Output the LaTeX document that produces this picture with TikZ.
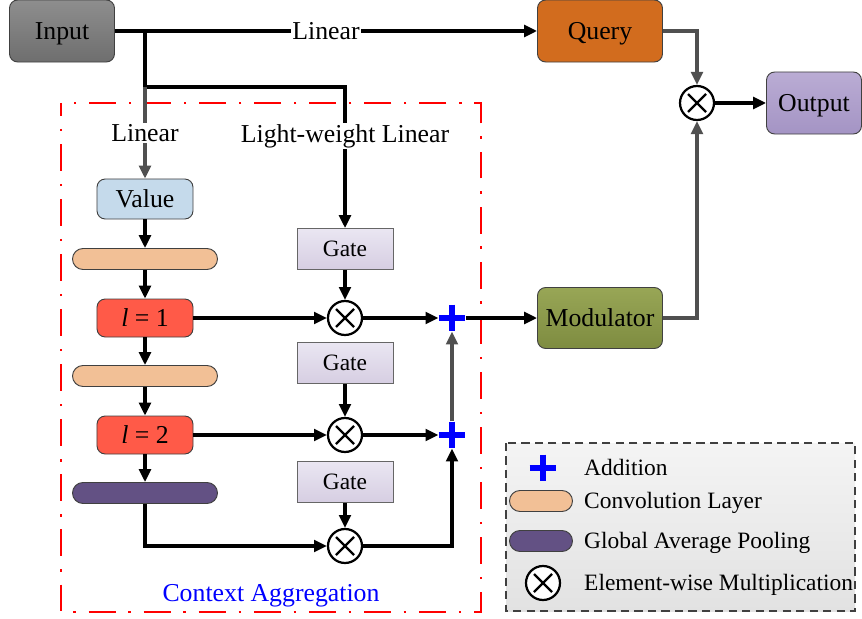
\documentclass[tikz,border=0pt]{standalone}
\usepackage{fontspec}
\setmainfont{Liberation Serif}
\usetikzlibrary{arrows.meta}

\definecolor{inputtop}{RGB}{142,142,142}
\definecolor{inputbot}{RGB}{110,110,110}
\definecolor{queryfill}{RGB}{210,108,30}
\definecolor{outtop}{RGB}{186,172,212}
\definecolor{outbot}{RGB}{164,148,196}
\definecolor{modtop}{RGB}{152,166,86}
\definecolor{modbot}{RGB}{126,140,64}
\definecolor{valuefill}{RGB}{197,218,235}
\definecolor{convfill}{RGB}{242,192,150}
\definecolor{levelfill}{RGB}{255,90,72}
\definecolor{gapfill}{RGB}{99,81,132}
\definecolor{gatetop}{RGB}{234,230,242}
\definecolor{gatebot}{RGB}{214,206,226}
\definecolor{legtop}{RGB}{244,244,244}
\definecolor{legbot}{RGB}{226,226,226}
\definecolor{linegray}{RGB}{80,80,80}

\tikzset{
	box/.style={draw=black!75, line width=0.8pt, rounded corners=7pt, inner sep=0pt,
		text height=14.5pt, text depth=0pt, font=\fontsize{22}{26}\selectfont},
	pill/.style={draw=black!75, line width=0.8pt, rounded corners=9pt, inner sep=0pt,
		minimum width=4.35cm, minimum height=0.63cm},
	gatebox/.style={draw=black!60, line width=0.8pt, inner sep=0pt, minimum width=2.88cm,
		minimum height=1.23cm, top color=gatetop, bottom color=gatebot,
		text height=13.2pt, text depth=0pt, font=\fontsize{20}{24}\selectfont},
	mulnode/.style={circle, draw, fill=white, line width=1.9pt, minimum size=1.02cm, inner sep=0pt,
		path picture={
			\draw[line width=1.9pt] ([shift={(-0.27cm,-0.27cm)}]path picture bounding box.center)
				-- ([shift={(0.27cm,0.27cm)}]path picture bounding box.center);
			\draw[line width=1.9pt] ([shift={(-0.27cm,0.27cm)}]path picture bounding box.center)
				-- ([shift={(0.27cm,-0.27cm)}]path picture bounding box.center);
		}},
	addnode/.style={rectangle, minimum size=0.8cm, inner sep=0pt,
		path picture={
			\draw[blue, line width=5pt] (path picture bounding box.west) -- (path picture bounding box.east);
			\draw[blue, line width=5pt] (path picture bounding box.north) -- (path picture bounding box.south);
		}},
	arrow/.style={line width=2.6pt, -{Triangle[length=11pt,width=10pt]}},
	grayarrow/.style={arrow, draw=linegray, -{Triangle[length=11pt,width=10pt,fill=linegray]}},
	label/.style={fill=white, inner sep=1pt, font=\fontsize{22}{26}\selectfont},
	legtext/.style={anchor=west, inner sep=0pt, text height=13.2pt, text depth=0pt,
		font=\fontsize{20}{24}\selectfont},
}

\begin{document}
\begin{tikzpicture}[x=0.03cm, y=-0.03cm]
	%%%%% START %%%%%
	\useasboundingbox (0,0) rectangle (862,619);
	
	\draw[red, line width=2.5pt, dash pattern=on 23pt off 11pt on 2pt off 11pt, dash phase=12pt] (61,103) rectangle (481,612);
	\node[text=blue, font=\fontsize{22}{26}\selectfont, text height=14.5pt, text depth=0pt] (ctxlabel) at (271,593) {Context Aggregation};
	
	\node[box, minimum width=3.15cm, minimum height=1.86cm, top color=inputtop, bottom color=inputbot] (input) at (62,31) {Input};
	\node[box, minimum width=3.75cm, minimum height=1.86cm, fill=queryfill] (query) at (600,31) {Query};
	\node[box, minimum width=2.85cm, minimum height=1.86cm, top color=outtop, bottom color=outbot] (output) at (814,103) {Output};
	\node[mulnode] (mulout) at (697,103) {};
	\node[box, minimum width=3.75cm, minimum height=1.83cm, top color=modtop, bottom color=modbot] (modulator) at (600,318) {Modulator};
	
	\node[box, minimum width=2.88cm, minimum height=1.2cm, fill=valuefill] (value) at (145,199) {Value};
	\node[pill, fill=convfill] (conv1) at (145,259) {};
	\node[box, minimum width=2.88cm, minimum height=1.14cm, fill=levelfill] (level1) at (145,318) {{\itshape l} = 1};
	\node[pill, fill=convfill] (conv2) at (145,376) {};
	\node[box, minimum width=2.88cm, minimum height=1.14cm, fill=levelfill] (level2) at (145,435) {{\itshape l} = 2};
	\node[pill, fill=gapfill] (gap) at (145,493) {};
	
	\node[gatebox] (gate1) at (345,249) {Gate};
	\node[gatebox] (gate2) at (345,363) {Gate};
	\node[gatebox] (gate3) at (345,482) {Gate};
	\node[mulnode] (mul1) at (345,318) {};
	\node[mulnode] (mul2) at (345,435) {};
	\node[mulnode] (mul3) at (345,546) {};
	\node[addnode] (add1) at (452,318) {};
	\node[addnode] (add2) at (452,435) {};
	
	\coordinate (split) at (145,31);
	\coordinate (fork) at (145,87);
	
	\draw[arrow] (input.east) -- node[label] {Linear} (query.west);
	\draw[line width=2.6pt] (split) -- (fork);
	\draw[arrow] (fork) -| node[label, pos=0.675] {Light-weight Linear} (gate1.north);
	\draw[grayarrow] (fork) -- node[label] {Linear} (value.north);
	
	\draw[grayarrow] (query.east) -| (mulout.north);
	\draw[grayarrow] (modulator.east) -| (mulout.south);
	\draw[arrow] (mulout.east) -- (output.west);
	
	\draw[arrow] (value.south) -- (conv1.north);
	\draw[arrow] (conv1.south) -- (level1.north);
	\draw[arrow] (level1.south) -- (conv2.north);
	\draw[arrow] (conv2.south) -- (level2.north);
	\draw[arrow] (level2.south) -- (gap.north);
	
	\draw[arrow] (gate1.south) -- (mul1.north);
	\draw[arrow] (gate2.south) -- (mul2.north);
	\draw[arrow] (gate3.south) -- (mul3.north);
	\draw[arrow] (level1.east) -- (mul1.west);
	\draw[arrow] (level2.east) -- (mul2.west);
	\draw[arrow] (gap.south) |- (mul3.west);
	\draw[arrow] (mul1.east) -- (add1.west);
	\draw[arrow] (mul2.east) -- (add2.west);
	\draw[arrow] (mul3.east) -| (add2.south);
	\draw[grayarrow] (add2.north) -- (add1.south);
	\draw[arrow] (add1.east) -- (modulator.west);
	
	\draw[draw=black!75, line width=1.8pt, dash pattern=on 7pt off 4.5pt, top color=legtop, bottom color=legbot] (506,443) rectangle (855,611);
	\node[addnode] (legadd) at (543,468) {};
	\node[pill, fill=convfill, minimum width=1.89cm, minimum height=0.63cm] (legconv) at (541,501) {};
	\node[pill, fill=gapfill, minimum width=1.89cm, minimum height=0.63cm] (leggap) at (541,541) {};
	\node[mulnode] (legmul) at (543,583) {};
	\node[legtext] (legaddtext) at (584,468) {Addition};
	\node[legtext] (legconvtext) at (584,501) {Convolution Layer};
	\node[legtext] (leggaptext) at (584,541) {Global Average Pooling};
	\node[legtext] (legmultext) at (584,583) {Element-wise Multiplication};
	
	%%%%% END %%%%%
\end{tikzpicture}
\end{document}
